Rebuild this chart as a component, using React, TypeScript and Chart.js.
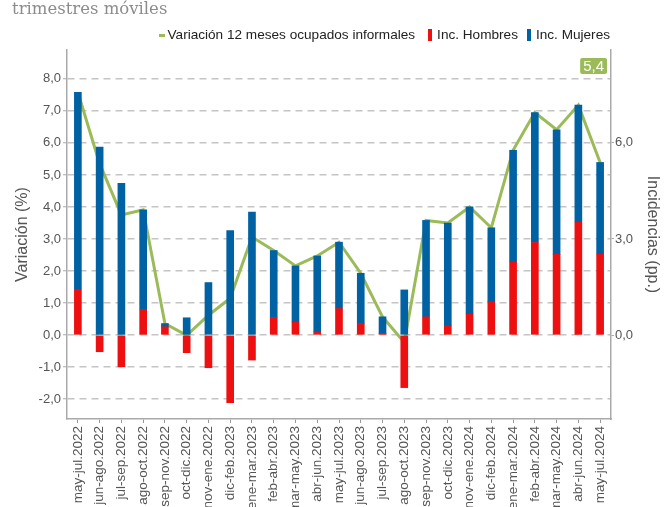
import { useEffect, useRef } from 'react';
import { Chart, registerables } from 'chart.js';
Chart.register(...registerables);

const categories = [
  'may-jul.2022', 'jun-ago.2022', 'jul-sep.2022', 'ago-oct.2022', 'sep-nov.2022',
  'oct-dic.2022', 'nov-ene.2022', 'dic-feb.2023', 'ene-mar.2023', 'feb-abr.2023',
  'mar-may.2023', 'abr-jun.2023', 'may-jul.2023', 'jun-ago.2023', 'jul-sep.2023',
  'ago-oct.2023', 'sep-nov.2023', 'oct-dic.2023', 'nov-ene.2024', 'dic-feb.2024',
  'ene-mar.2024', 'feb-abr.2024', 'mar-may.2024', 'abr-jun.2024', 'may-jul.2024',
];

const incHombres = [
  1.43, -0.52, -0.99, 0.8, 0.26, -0.55, -1.02, -2.11, -0.78, 0.55, 0.41, 0.1, 0.83,
  0.36, 0.05, -1.64, 0.57, 0.29, 0.66, 1.04, 2.29, 2.89, 2.52, 3.53, 2.53,
];

const incMujeres = [
  6.15, 5.87, 4.74, 3.11, 0.1, 0.54, 1.64, 3.26, 3.84, 2.09, 1.75, 2.37, 2.07,
  1.57, 0.52, 1.41, 3.01, 3.21, 3.34, 2.31, 3.48, 4.06, 3.89, 3.65, 2.86,
];

const variacion = [
  7.58, 5.35, 3.75, 3.91, 0.36, -0.01, 0.62, 1.15, 3.06, 2.64, 2.16, 2.47, 2.9,
  1.93, 0.57, -0.23, 3.58, 3.5, 4.0, 3.35, 5.77, 6.95, 6.41, 7.18, 5.39,
];

const leftTicks = [-2, -1, 0, 1, 2, 3, 4, 5, 6, 7, 8];
const rightTicks = [0, 3, 6];

const fmt = (v: number) => Number(v).toFixed(1).replace('.', ',');

const SANS = '"Liberation Sans", Arial, sans-serif';
const GREEN = '#9BBB59';
const RED = '#EE1010';
const BLUE = '#0062A3';

export default function App() {
  const ref = useRef<HTMLCanvasElement>(null);

  useEffect(() => {
    document.body.style.margin = '0';
    document.body.style.overflow = 'hidden';

    const lastLabel = {
      id: 'lastLabel',
      afterDatasetsDraw(chart: any) {
        const meta = chart.getDatasetMeta(0);
        const pt = meta.data[meta.data.length - 1];
        if (!pt) return;
        const { ctx, chartArea } = chart;
        const text = fmt(variacion[variacion.length - 1]);
        ctx.save();
        ctx.font = '15px ' + SANS;
        const w = ctx.measureText(text).width + 6;
        const h = 16;
        const cx = Math.min(pt.x, chartArea.right - 4 - w / 2);
        const y = chartArea.top + 8;
        ctx.fillStyle = GREEN;
        ctx.beginPath();
        ctx.roundRect(cx - w / 2, y, w, h, 2);
        ctx.fill();
        ctx.fillStyle = '#ffffff';
        ctx.textAlign = 'center';
        ctx.textBaseline = 'middle';
        ctx.fillText(text, cx, y + h / 2 + 0.5);
        ctx.restore();
      },
    };

    const chart = new Chart(ref.current as HTMLCanvasElement, {
      type: 'bar',
      data: {
        labels: categories,
        datasets: [
          {
            type: 'line',
            label: 'Variación 12 meses ocupados informales',
            data: variacion,
            borderColor: GREEN,
            backgroundColor: GREEN,
            borderWidth: 3,
            pointRadius: 0,
            stack: 'line',
            order: 2,
            yAxisID: 'y',
            tension: 0,
          } as any,
          {
            type: 'bar',
            label: 'Inc. Hombres',
            data: incHombres,
            backgroundColor: RED,
            stack: 'inc',
            order: 1,
            barThickness: 7,
            yAxisID: 'y',
          },
          {
            type: 'bar',
            label: 'Inc. Mujeres',
            data: incMujeres,
            backgroundColor: BLUE,
            stack: 'inc',
            order: 1,
            barThickness: 7,
            yAxisID: 'y',
          },
        ],
      },
      options: {
        responsive: false,
        maintainAspectRatio: false,
        animation: false,
        layout: { padding: { top: 50, left: 0, right: 0, bottom: 0 } },
        plugins: {
          legend: { display: false },
          tooltip: { enabled: false },
        },
        scales: {
          x: {
            stacked: true,
            grid: {
              display: true,
              drawOnChartArea: false,
              drawTicks: true,
              tickLength: 4,
              tickColor: '#999',
              offset: false,
            },
            border: { display: true, color: '#aaa', width: 1.5 },
            ticks: {
              minRotation: 90,
              maxRotation: 90,
              autoSkip: false,
              padding: 3,
              color: '#555',
              font: { family: SANS, size: 13.5 },
            },
            afterFit: (s: any) => {
              s.height = 88;
            },
          },
          y: {
            stacked: true,
            position: 'left',
            min: -2.62,
            max: 8.9,
            afterBuildTicks: (s: any) => {
              s.ticks = leftTicks.map((v) => ({ value: v }));
            },
            ticks: {
              callback: (v: any) => fmt(v),
              color: '#555',
              padding: 2,
              font: { family: SANS, size: 13 },
            },
            grid: {
              color: '#c4c4c4',
              lineWidth: 1.5,
              tickLength: 4,
              tickColor: '#aaa',
              tickWidth: 1,
            },
            border: { display: true, color: '#aaa', width: 1.5, dash: [7, 5] },
            title: {
              display: true,
              text: 'Variación (%)',
              color: '#555',
              font: { family: SANS, size: 16 },
              padding: { top: 13, bottom: 0 },
            },
            afterFit: (s: any) => {
              s.width = 67;
            },
          },
          y1: {
            position: 'right',
            min: -2.62,
            max: 8.9,
            afterBuildTicks: (s: any) => {
              s.ticks = rightTicks.map((v) => ({ value: v }));
            },
            ticks: {
              callback: (v: any) => fmt(v),
              color: '#555',
              padding: 1,
              font: { family: SANS, size: 13 },
            },
            grid: {
              drawOnChartArea: false,
              tickLength: 3,
              tickColor: '#aaa',
              tickWidth: 1,
            },
            border: { display: true, color: '#aaa', width: 1.5 },
            title: {
              display: true,
              text: 'Incidencias (pp.)',
              color: '#555',
              font: { family: SANS, size: 16 },
              padding: { top: 8, bottom: 0 },
            },
            afterFit: (s: any) => {
              s.width = 59;
            },
          },
        },
      } as any,
      plugins: [lastLabel],
    });

    return () => chart.destroy();
  }, []);

  const marker = (color: string, w: number, h: number, ml: number, mr: number) => (
    <span
      style={{
        display: 'inline-block',
        width: w,
        height: h,
        background: color,
        marginLeft: ml,
        marginRight: mr,
      }}
    />
  );

  return (
    <div style={{ position: 'relative', width: 670, height: 507, overflow: 'hidden' }}>
      <canvas ref={ref} width={670} height={507} style={{ position: 'absolute', left: 0, top: 0 }} />
      <div
        style={{
          position: 'absolute',
          left: 12,
          top: 1,
          fontFamily: '"DejaVu Serif", serif',
          fontSize: 16.5,
          lineHeight: 1,
          color: '#8c8c8c',
          whiteSpace: 'nowrap',
        }}
      >
        trimestres móviles
      </div>
      <div
        style={{
          position: 'absolute',
          right: 60,
          top: 27,
          display: 'flex',
          alignItems: 'center',
          fontFamily: SANS,
          fontSize: 13.6,
          lineHeight: '16px',
          color: '#222',
          whiteSpace: 'nowrap',
        }}
      >
        {marker(GREEN, 6, 3, 0, 3)}
        <span>Variación 12 meses ocupados informales</span>
        {marker(RED, 4, 12, 13, 5)}
        <span>Inc. Hombres</span>
        {marker(BLUE, 4, 12, 9, 5)}
        <span>Inc. Mujeres</span>
      </div>
    </div>
  );
}
